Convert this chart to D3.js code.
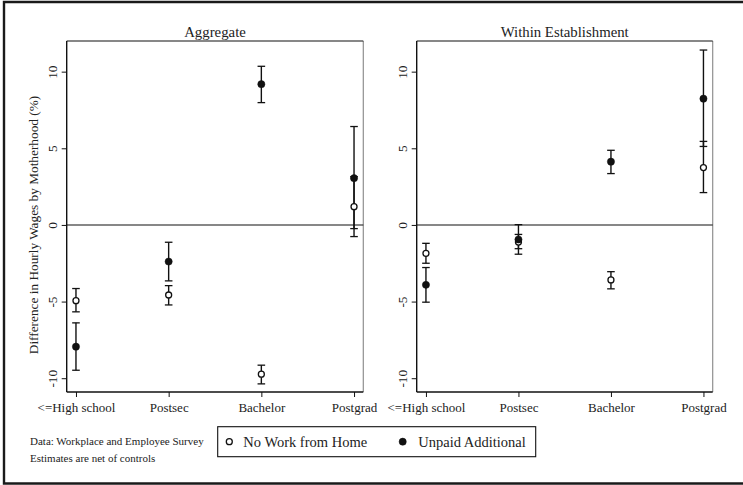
<!DOCTYPE html>
<html>
<head>
<meta charset="utf-8">
<script src="https://cdn.jsdelivr.net/npm/d3@7"></script>
<style>
  html, body { margin: 0; padding: 0; background: #fff; }
  svg { display: block; }
  svg text { font-family: "Liberation Serif", "Times New Roman", Times, serif !important; fill: #222; }
</style>
</head>
<body>
<svg id="chart" width="743" height="485"></svg>
<script>
// ---- Data ----
const categories = ["<=High school", "Postsec", "Bachelor", "Postgrad"];
const panels = ["Aggregate", "Within Establishment"];
const seriesNames = ["No Work from Home", "Unpaid Additional"];
const yTicks = [-10, -5, 0, 5, 10];
const yTickLabels = ["-10", "-5", "0", "5", "10"];

// Aggregate
const aggNoWFH      = [-4.94, -4.57, -9.74, 1.19];
const aggNoWFHLow   = [-5.67, -5.22, -10.37, -0.76];
const aggNoWFHHigh  = [-4.15, -3.96, -9.15, 3.15];
const aggUnpaid     = [-7.94, -2.39, 9.18, 3.05];
const aggUnpaidLow  = [-9.48, -3.65, 7.98, -0.24];
const aggUnpaidHigh = [-6.39, -1.13, 10.35, 6.42];

// Within Establishment
const wNoWFH      = [-1.85, -1.12, -3.59, 3.74];
const wNoWFHLow   = [-2.50, -1.55, -4.17, 2.11];
const wNoWFHHigh  = [-1.20, -0.62, -3.05, 5.45];
const wUnpaid     = [-3.91, -0.95, 4.13, 8.24];
const wUnpaidLow  = [-5.04, -1.91, 3.35, 5.12];
const wUnpaidHigh = [-2.78, 0.02, 4.87, 11.41];

const panelData = [
  [
    {name: seriesNames[0], est: aggNoWFH, lo: aggNoWFHLow, hi: aggNoWFHHigh, filled: false},
    {name: seriesNames[1], est: aggUnpaid, lo: aggUnpaidLow, hi: aggUnpaidHigh, filled: true}
  ],
  [
    {name: seriesNames[0], est: wNoWFH, lo: wNoWFHLow, hi: wNoWFHHigh, filled: false},
    {name: seriesNames[1], est: wUnpaid, lo: wUnpaidLow, hi: wUnpaidHigh, filled: true}
  ]
];

// ---- Layout ----
const svg = d3.select("#chart");
const ink = "#111";
const fontTick = 13.3;
const serif = "'Liberation Serif', 'Times New Roman', Times, serif";

// outer frame
svg.append("path")
  .attr("d", "M 760 2 H 4 V 483.5 H 760")
  .attr("fill", "none").attr("stroke", "#1a1a1a").attr("stroke-width", 2.4);

const panelBoxes = [
  {x0: 66.7, x1: 363.3},
  {x0: 416.7, x1: 712.7}
];
const plotTop = 41, plotBottom = 392;

const y = d3.scaleLinear().domain([-10.9, 12.0]).range([plotBottom, plotTop]);

panelBoxes.forEach((pb, pi) => {
  const g = svg.append("g");
  const x = d3.scaleLinear().domain([-0.1, categories.length - 0.9]).range([pb.x0, pb.x1]);

  // right border (gray)
  g.append("line").attr("x1", pb.x1).attr("x2", pb.x1).attr("y1", plotTop).attr("y2", plotBottom)
    .attr("stroke", "#8f8f8f").attr("stroke-width", 1.2);
  // top border
  g.append("line").attr("x1", pb.x0).attr("x2", pb.x1).attr("y1", plotTop).attr("y2", plotTop)
    .attr("stroke", ink).attr("stroke-width", 1.2);

  // zero line
  g.append("line").attr("x1", pb.x0).attr("x2", pb.x1).attr("y1", y(0)).attr("y2", y(0))
    .attr("stroke", ink).attr("stroke-width", 1.1);

  // y axis
  const yAxis = d3.axisLeft(y).tickValues(yTicks).tickSize(5).tickPadding(8)
    .tickFormat((d, i) => yTickLabels[i]);
  const ya = g.append("g").attr("transform", `translate(${pb.x0},0)`).call(yAxis)
    .attr("font-family", serif);
  ya.select(".domain").attr("d", `M0,${plotTop}V${plotBottom}`).attr("stroke", ink).attr("stroke-width", 1.4);
  ya.selectAll(".tick line").attr("stroke", ink).attr("stroke-width", 1);
  ya.selectAll(".tick text")
    .attr("font-size", fontTick)
    .style("font-family", serif)
    .attr("fill", "#222")
    .attr("text-anchor", "middle")
    .attr("x", null).attr("dy", null)
    .attr("transform", "translate(-14.5,0) rotate(-90)")
    .attr("dominant-baseline", "central");

  // x axis
  const xAxis = d3.axisBottom(x).tickValues(d3.range(categories.length)).tickSize(5).tickPadding(6)
    .tickFormat(i => categories[i]);
  const xa = g.append("g").attr("transform", `translate(0,${plotBottom})`).call(xAxis)
    .attr("font-family", serif);
  xa.select(".domain").attr("d", `M${pb.x0},0H${pb.x1}`).attr("stroke", ink).attr("stroke-width", 1.6);
  xa.selectAll(".tick line").attr("stroke", ink).attr("stroke-width", 1);
  xa.selectAll(".tick text")
    .attr("font-size", 13)
    .style("font-family", serif)
    .attr("fill", "#222");

  // panel title
  g.append("text").attr("x", (pb.x0 + pb.x1) / 2).attr("y", 36.5)
    .attr("text-anchor", "middle").attr("font-size", 14.8).style("font-family", serif).text(panels[pi]);

  // error bars & points
  panelData[pi].forEach(s => {
    const capW = 3.8;
    categories.forEach((c, i) => {
      const cx = x(i);
      g.append("line").attr("x1", cx).attr("x2", cx)
        .attr("y1", y(s.lo[i])).attr("y2", y(s.hi[i]))
        .attr("stroke", ink).attr("stroke-width", 1.4);
      [s.lo[i], s.hi[i]].forEach(v => {
        g.append("line").attr("x1", cx - capW).attr("x2", cx + capW)
          .attr("y1", y(v)).attr("y2", y(v))
          .attr("stroke", ink).attr("stroke-width", 1.3);
      });
    });
  });
  panelData[pi].forEach(s => {
    categories.forEach((c, i) => {
      g.append("circle").attr("cx", x(i)).attr("cy", y(s.est[i]))
        .attr("r", s.filled ? 3.6 : 3.0)
        .attr("fill", s.filled ? ink : "#fff")
        .attr("stroke", ink).attr("stroke-width", s.filled ? 0.5 : 1.3);
    });
  });
});

// y-axis title
svg.append("text")
  .attr("transform", `translate(33,225) rotate(-90)`)
  .attr("text-anchor", "middle").attr("dominant-baseline", "central")
  .attr("font-size", 13.3).style("font-family", serif).text("Difference in Hourly Wages by Motherhood (%)");

// notes
svg.append("text").attr("x", 30).attr("y", 444.5).attr("font-size", 11).style("font-family", serif)
  .text("Data: Workplace and Employee Survey");
svg.append("text").attr("x", 30).attr("y", 461.5).attr("font-size", 11).style("font-family", serif)
  .text("Estimates are net of controls");

// legend
const lg = svg.append("g");
lg.append("rect").attr("x", 217.7).attr("y", 426.7).attr("width", 318).attr("height", 30)
  .attr("fill", "#fff").attr("stroke", ink).attr("stroke-width", 1.1);
const legendItems = [
  {name: seriesNames[0], filled: false, mx: 229.3, tx: 243.3},
  {name: seriesNames[1], filled: true, mx: 402.7, tx: 418.3}
];
legendItems.forEach(it => {
  lg.append("circle").attr("cx", it.mx).attr("cy", 441.7)
    .attr("r", it.filled ? 3.6 : 3.0)
    .attr("fill", it.filled ? ink : "#fff")
    .attr("stroke", ink).attr("stroke-width", it.filled ? 0.5 : 1.3);
  lg.append("text").attr("x", it.tx).attr("y", 441.7).attr("dominant-baseline", "central")
    .attr("font-size", 14.5).style("font-family", serif).text(it.name);
});
</script>
</body>
</html>
